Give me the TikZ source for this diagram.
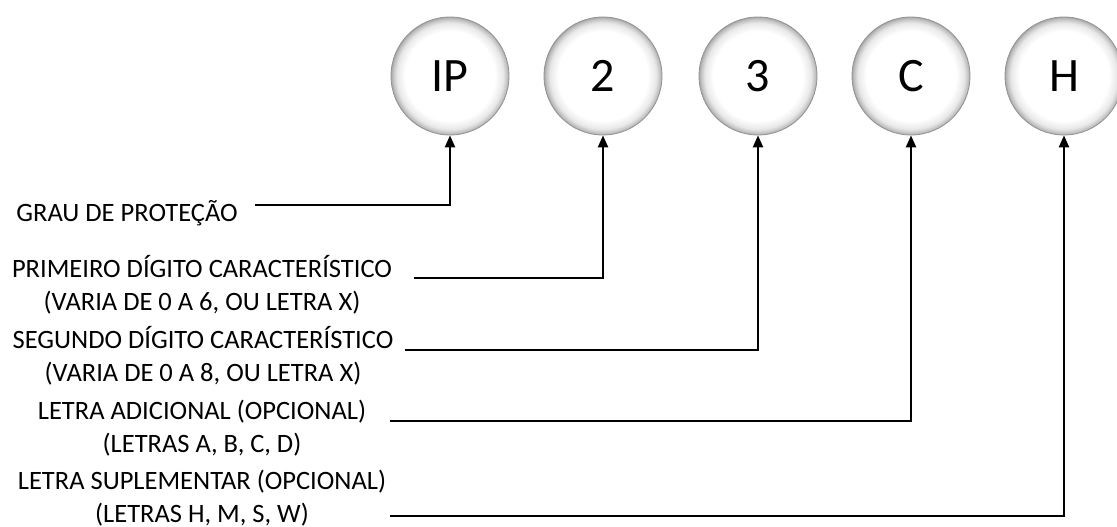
\documentclass[tikz,border=0pt]{standalone}
\usepackage{fontspec}
\setmainfont{Carlito}
\usetikzlibrary{shapes,arrows.meta}

% white ball with a grey rim
\pgfdeclareradialshading{ballshade}{\pgfpointorigin}{color(0bp)=(white); color(19bp)=(white); color(22.5bp)=(gray!18); color(24.3bp)=(gray!50); color(25bp)=(gray!70); color(50bp)=(gray!70)}

\tikzset{
	code/.style={shape=circle, minimum size=118pt, inner sep=0pt, shading=ballshade, draw=gray!85, line width=0.8pt, font=\fontsize{48}{48}\selectfont},
	desc/.style={align=center, inner sep=0pt, font=\fontsize{26.5}{33}\selectfont},
	link/.style={line width=2.4pt, -{Triangle[length=12pt,width=10pt]}}
}

\begin{document}
\begin{tikzpicture}[x=1pt, y=-1pt]
	\useasboundingbox (0,0) rectangle (1117,527);

	\node[code] (ip) at (450,76) {IP};
	\node[code] (first) at (603,76) {2};
	\node[code] (second) at (758,76) {3};
	\node[code] (extra) at (911,76) {C};
	\node[code] (suppl) at (1064,76) {H};

	\node[desc] (grau) at (127,213) {GRAU DE PROTEÇÃO};
	\node[desc] (dfirst) at (202,285) {PRIMEIRO DÍGITO CARACTERÍSTICO\\(VARIA DE 0 A 6, OU LETRA X)};
	\node[desc] (dsecond) at (203,356) {SEGUNDO DÍGITO CARACTERÍSTICO\\(VARIA DE 0 A 8, OU LETRA X)};
	\node[desc] (dextra) at (202,428) {LETRA ADICIONAL (OPCIONAL)\\(LETRAS A, B, C, D)};
	\node[desc] (dsuppl) at (202,498) {LETRA SUPLEMENTAR (OPCIONAL)\\(LETRAS H, M, S, W)};

	\coordinate (g0) at (255,205);
	\coordinate (f0) at (414,278);
	\coordinate (s0) at (405,350);
	\coordinate (a0) at (390,421);
	\coordinate (u0) at (390,516);

	\draw[link] (g0) -| (ip.south);
	\draw[link] (f0) -| (first.south);
	\draw[link] (s0) -| (second.south);
	\draw[link] (a0) -| (extra.south);
	\draw[link] (u0) -| (suppl.south);
\end{tikzpicture}
\end{document}
